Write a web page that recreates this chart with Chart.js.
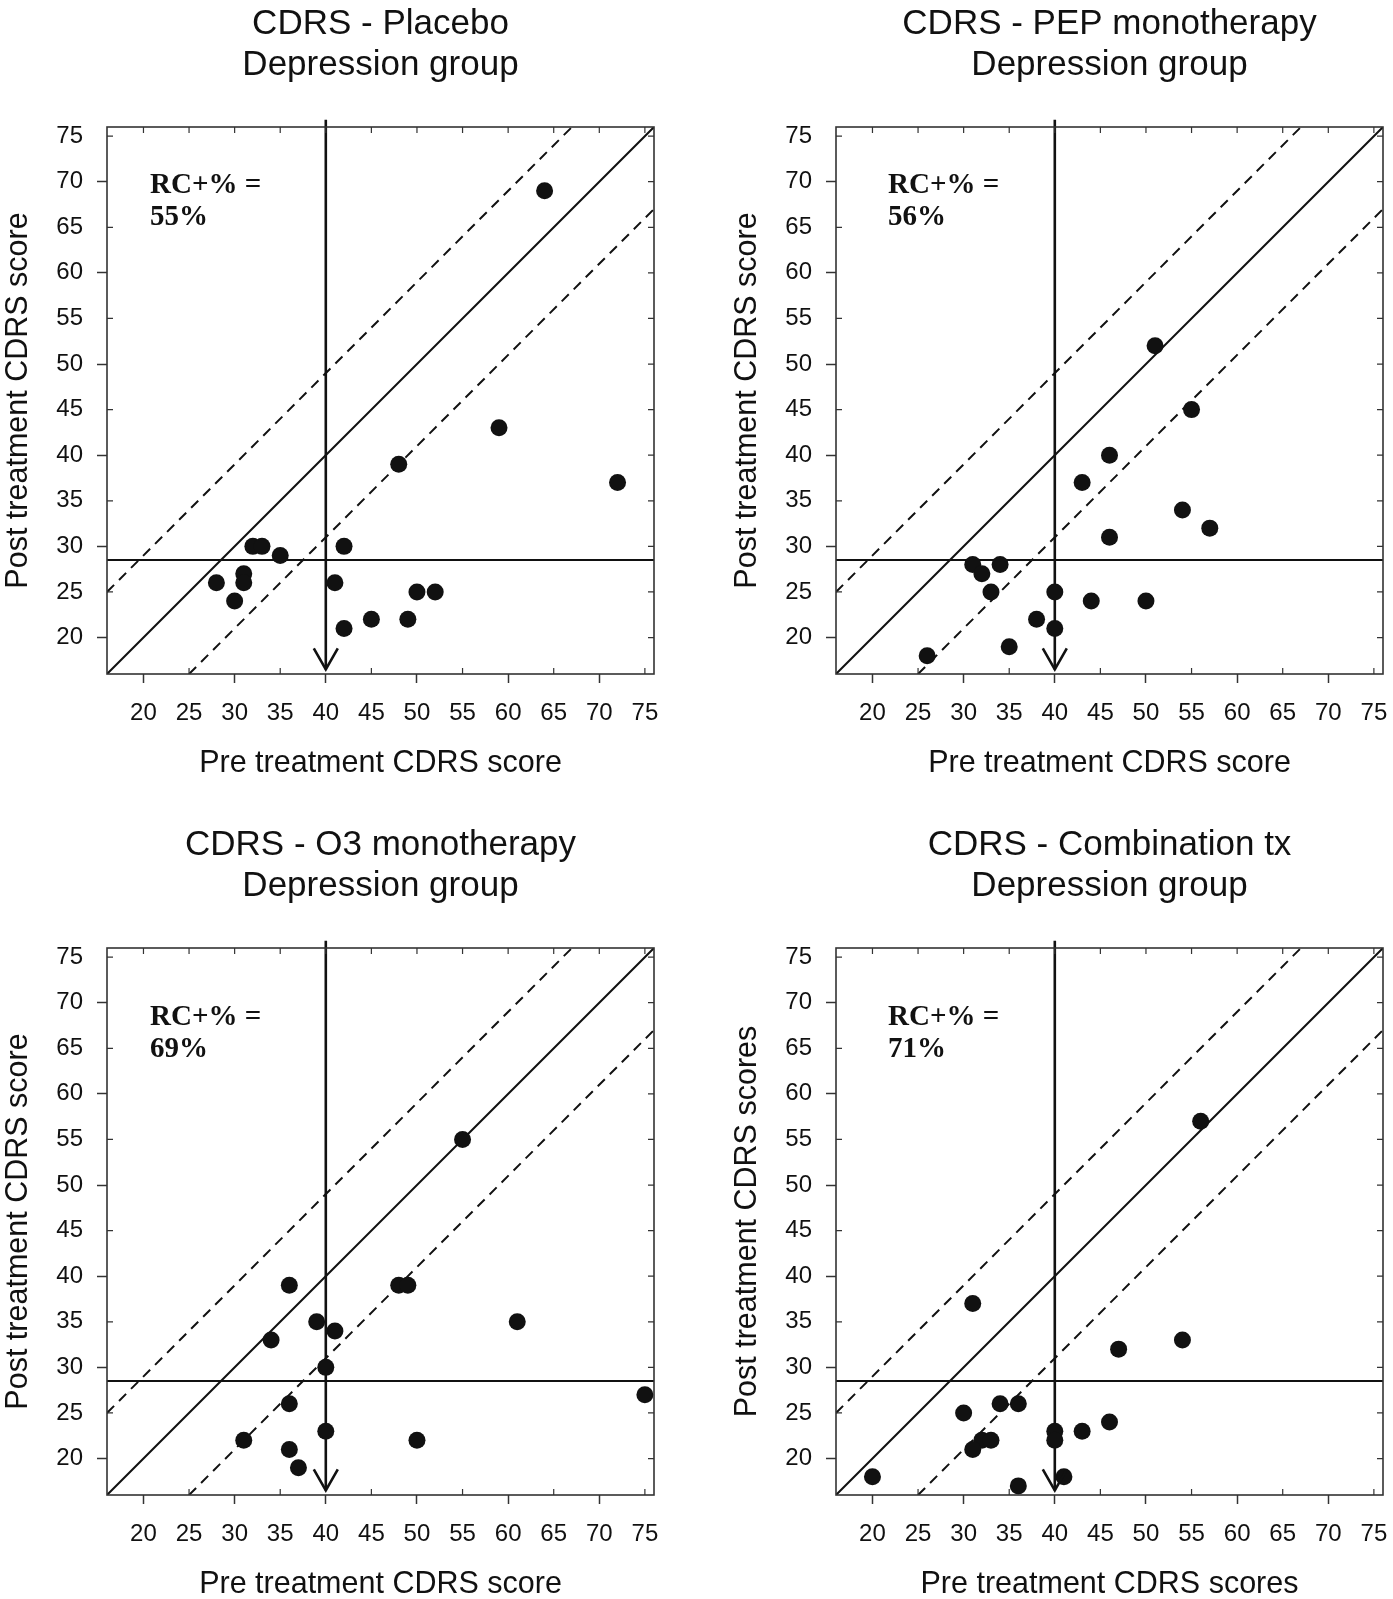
<!DOCTYPE html>
<html>
<head>
<meta charset="utf-8">
<title>CDRS reliable change - Depression group</title>
<script src="https://cdn.jsdelivr.net/npm/chart.js@4.4.1/dist/chart.umd.min.js"></script>
<style>
  html, body { margin: 0; padding: 0; background: #fff; }
  body { width: 1393px; height: 1599px; position: relative; overflow: hidden; }
  .panel { position: absolute; }
</style>
</head>
<body>
<canvas id="placebo" class="panel" width="696" height="800" style="left:0px;top:0px"></canvas>
<canvas id="pep" class="panel" width="696" height="800" style="left:729px;top:0px"></canvas>
<canvas id="o3" class="panel" width="696" height="800" style="left:0px;top:821px"></canvas>
<canvas id="combo" class="panel" width="696" height="800" style="left:729px;top:821px"></canvas>
<script>
// axis ticks, same on both axes of every panel
const axisTicks = [20, 25, 30, 35, 40, 45, 50, 55, 60, 65, 70, 75];
const axisMin = 16;
const axisMax = 76;

// guide lines (data units)
const identityLine = [{x: 16, y: 16}, {x: 76, y: 76}];
const upperBand = [{x: 16, y: 25}, {x: 67, y: 76}];
const lowerBand = [{x: 25, y: 16}, {x: 76, y: 67}];
const cutoffLine = [{x: 16, y: 28.5}, {x: 76, y: 28.5}];
const arrowLine = [{x: 40, y: 76.8}, {x: 40, y: 16.5}];

// pre / post scores per group
const placeboPre  = [64, 59, 72, 48, 32, 33, 35, 42, 28, 31, 31, 30, 41, 50, 52, 45, 49, 42];
const placeboPost = [69, 43, 37, 39, 30, 30, 29, 30, 26, 27, 26, 24, 26, 25, 25, 22, 22, 21];

const pepPre  = [51, 55, 46, 43, 54, 57, 46, 31, 32, 34, 33, 40, 44, 50, 38, 40, 35, 26];
const pepPost = [52, 45, 40, 37, 34, 32, 31, 28, 27, 28, 25, 25, 24, 24, 22, 21, 19, 18];

const o3Pre  = [55, 36, 48, 49, 39, 41, 61, 34, 40, 75, 36, 40, 31, 50, 36, 37];
const o3Post = [55, 39, 39, 39, 35, 34, 35, 33, 30, 27, 26, 23, 22, 22, 21, 19];

const comboPre  = [56, 31, 54, 47, 34, 36, 30, 46, 40, 40, 43, 32, 33, 31, 20, 41, 36];
const comboPost = [57, 37, 33, 32, 26, 26, 25, 24, 23, 22, 23, 22, 22, 21, 18, 18, 17];

const percentLabels = ["55%", "56%", "69%", "71%"];

Chart.defaults.font.family = "'Liberation Sans', Arial, sans-serif";
Chart.defaults.color = "#111";

const ink = "#111";

function makeChart(id, cfg) {
    const points = cfg.pre.map(function (x, i) {
        return {x: x, y: cfg.post[i]};
    });

    const guide = function (data, width, dash) {
        return {
            data: data,
            showLine: true,
            borderColor: ink,
            borderWidth: width,
            borderDash: dash || [],
            pointRadius: 0,
            pointHoverRadius: 0,
        };
    };

    const arrow = guide(arrowLine, 2.6);
    arrow.clip = false;

    const panelText = {
        id: "panelText",
        afterDatasetsDraw: function (chart) {
            const c = chart.ctx;
            const a = chart.chartArea;
            const xs = chart.scales.x;
            const ys = chart.scales.y;

            // frame
            c.save();
            c.strokeStyle = "#333";
            c.lineWidth = 1.6;
            c.strokeRect(a.left, a.top, a.right - a.left, a.bottom - a.top);

            // inner ticks
            c.lineWidth = 1.2;
            c.beginPath();
            axisTicks.forEach(function (v) {
                const px = xs.getPixelForValue(v);
                const py = ys.getPixelForValue(v);
                if (v % 10 !== 0) {
                    c.moveTo(px, a.bottom);
                    c.lineTo(px, a.bottom - 6);
                    c.moveTo(a.left, py);
                    c.lineTo(a.left + 6, py);
                }
                c.moveTo(px, a.top);
                c.lineTo(px, a.top + 6);
                c.moveTo(a.right, py);
                c.lineTo(a.right - 6, py);
            });
            c.stroke();

            // arrow head
            const tip = arrowLine[arrowLine.length - 1];
            const tx = xs.getPixelForValue(tip.x);
            const ty = ys.getPixelForValue(tip.y);
            c.strokeStyle = ink;
            c.lineWidth = 2.6;
            c.beginPath();
            c.moveTo(tx - 12, ty - 21);
            c.lineTo(tx, ty);
            c.lineTo(tx + 12, ty - 21);
            c.stroke();

            // titles
            const cx = (a.left + a.right) / 2;
            c.fillStyle = ink;
            c.textAlign = "center";
            c.textBaseline = "middle";
            c.font = "35px 'Liberation Sans', Arial, sans-serif";
            c.fillText(cfg.title, cx, a.top - 103);
            c.fillText("Depression group", cx, a.top - 62);

            // RC+ annotation
            c.textAlign = "left";
            c.textBaseline = "alphabetic";
            c.font = "bold 29px 'Liberation Serif', 'Times New Roman', serif";
            c.fillText("RC+% =", a.left + cfg.rcDx, a.top + cfg.rcDy);
            c.fillText(cfg.percent, a.left + cfg.rcDx, a.top + cfg.rcDy + 32);
            c.restore();
        },
    };

    const tickColor = function (ctx) {
        return ctx.tick && ctx.tick.value % 10 === 0 ? "#333" : "rgba(0,0,0,0)";
    };

    return new Chart(document.getElementById(id), {
        type: "scatter",
        data: {
            datasets: [
                {
                    data: points,
                    pointRadius: 8.5,
                    pointHoverRadius: 8.5,
                    pointBackgroundColor: ink,
                    pointBorderColor: ink,
                    pointBorderWidth: 0,
                },
                arrow,
                guide(identityLine, 2),
                guide(upperBand, 2, [10, 7]),
                guide(lowerBand, 2, [10, 7]),
                guide(cutoffLine, 2),
            ],
        },
        options: {
            responsive: false,
            animation: false,
            devicePixelRatio: 1,
            events: [],
            layout: {padding: {left: 0, right: 42, top: 127, bottom: 18}},
            plugins: {
                legend: {display: false},
                tooltip: {enabled: false},
            },
            scales: {
                x: {
                    type: "linear",
                    position: "bottom",
                    min: axisMin,
                    max: axisMax,
                    afterBuildTicks: function (s) {
                        s.ticks = axisTicks.map(function (v) { return {value: v}; });
                    },
                    afterFit: function (s) { s.height = 108; },
                    ticks: {font: {size: 24}, color: ink, padding: 16, maxRotation: 0, autoSkip: false},
                    grid: {drawOnChartArea: false, drawTicks: true, tickLength: 9, tickColor: tickColor, tickWidth: 1.5},
                    border: {display: false},
                    title: {display: true, text: cfg.xTitle, font: {size: 30.5}, color: ink, padding: 0},
                },
                y: {
                    type: "linear",
                    position: "left",
                    min: axisMin,
                    max: axisMax,
                    afterBuildTicks: function (s) {
                        s.ticks = axisTicks.map(function (v) { return {value: v}; });
                    },
                    afterFit: function (s) { s.width = 107; },
                    ticks: {font: {size: 24}, color: ink, padding: 14, autoSkip: false},
                    grid: {drawOnChartArea: false, drawTicks: true, tickLength: 10, tickColor: tickColor, tickWidth: 1.5},
                    border: {display: false},
                    title: {display: true, text: cfg.yTitle, font: {size: 30.5}, color: ink, padding: 0},
                },
            },
        },
        plugins: [panelText],
    });
}

document.addEventListener("DOMContentLoaded", function () {
    makeChart("placebo", {
        pre: placeboPre, post: placeboPost,
        title: "CDRS - Placebo", percent: percentLabels[0],
        xTitle: "Pre treatment CDRS score", yTitle: "Post treatment CDRS score",
        rcDx: 43, rcDy: 66,
    });
    makeChart("pep", {
        pre: pepPre, post: pepPost,
        title: "CDRS - PEP monotherapy", percent: percentLabels[1],
        xTitle: "Pre treatment CDRS score", yTitle: "Post treatment CDRS score",
        rcDx: 52, rcDy: 66,
    });
    makeChart("o3", {
        pre: o3Pre, post: o3Post,
        title: "CDRS - O3 monotherapy", percent: percentLabels[2],
        xTitle: "Pre treatment CDRS score", yTitle: "Post treatment CDRS score",
        rcDx: 43, rcDy: 77,
    });
    makeChart("combo", {
        pre: comboPre, post: comboPost,
        title: "CDRS - Combination tx", percent: percentLabels[3],
        xTitle: "Pre treatment CDRS scores", yTitle: "Post treatment CDRS scores",
        rcDx: 52, rcDy: 77,
    });
});
</script>
</body>
</html>
